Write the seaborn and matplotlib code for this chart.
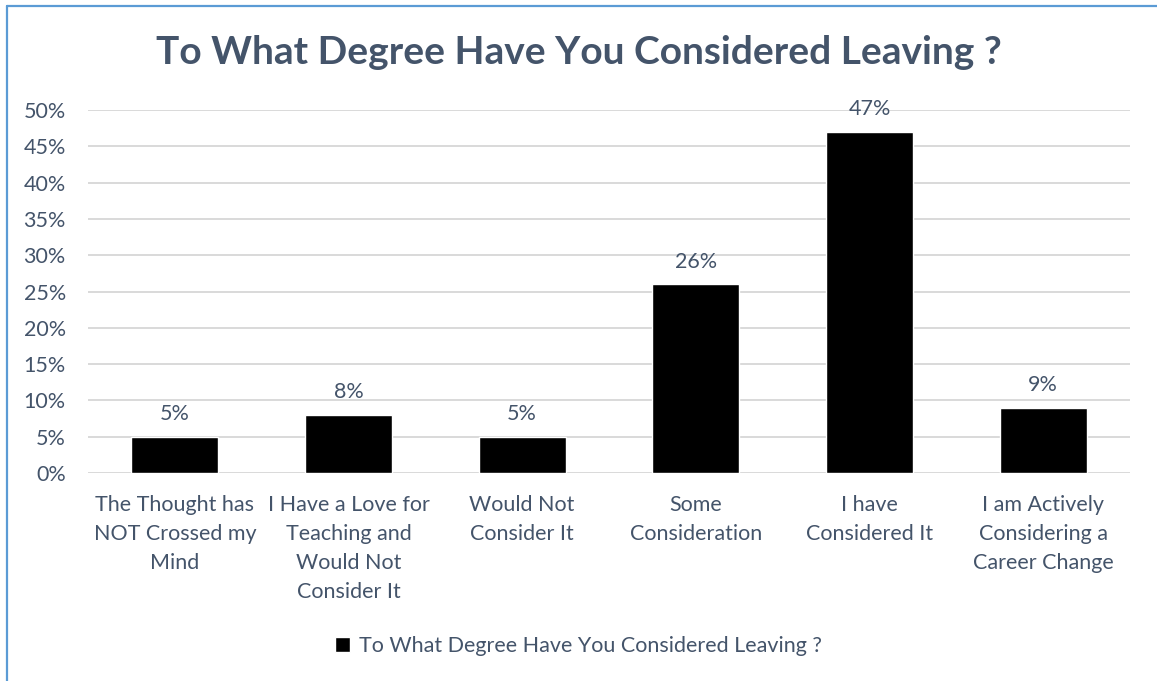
import matplotlib
matplotlib.use("Agg")
import matplotlib.pyplot as plt
import matplotlib.lines as mlines
import seaborn as sns
import pandas as pd

categories = [
    "The Thought has\nNOT Crossed my\nMind",
    "I Have a Love for\nTeaching and\nWould Not\nConsider It",
    "Would Not\nConsider It",
    "Some\nConsideration",
    "I have\nConsidered It",
    "I am Actively\nConsidering a\nCareer Change",
]
values = [0.05, 0.08, 0.05, 0.26, 0.47, 0.09]
series_name = "To What Degree Have You Considered Leaving ?"
y_ticks = [0.0, 0.05, 0.10, 0.15, 0.20, 0.25, 0.30, 0.35, 0.40, 0.45, 0.50]

TEXT = "#44546A"
FONT = ["Lato", "DejaVu Sans"]
BODY = 15.5

sns.set_theme(style="white")
plt.rcParams["font.family"] = FONT

W, H = 1157, 681
fig = plt.figure(figsize=(W / 100, H / 100), dpi=100)
fig.patch.set_facecolor("white")

# Outer chart frame: top and left edges only
fig.add_artist(mlines.Line2D([6.5 / W, 1.0], [1 - 5.5 / H, 1 - 5.5 / H],
                             color="#5B9BD5", lw=1.6, transform=fig.transFigure))
fig.add_artist(mlines.Line2D([6.5 / W, 6.5 / W], [0.0, 1 - 5.5 / H],
                             color="#5B9BD5", lw=1.6, transform=fig.transFigure))

left, right, bottom_px, top_px = 88, 1130, 473, 110
ax = fig.add_axes([left / W, (H - bottom_px) / H, (right - left) / W, (bottom_px - top_px) / H])

df = pd.DataFrame({"category": categories, "value": values})
sns.barplot(data=df, x="category", y="value", color="black", width=0.5,
            saturation=1, ax=ax, label=series_name, zorder=3)

ax.set_ylim(0, 0.5)
ax.set_yticks(y_ticks)
ax.set_yticklabels([f"{int(round(t * 100))}%" for t in y_ticks])
ax.yaxis.grid(True, color="#D9D9D9", lw=1.4, zorder=0)
ax.set_axisbelow(True)
for s in ax.spines.values():
    s.set_visible(False)
ax.set_xlabel("")
ax.set_ylabel("")
ax.tick_params(axis="y", length=0, pad=16, labelsize=BODY, labelcolor=TEXT)
ax.tick_params(axis="x", length=0, pad=16, labelsize=BODY, labelcolor=TEXT)
for lbl in ax.get_xticklabels():
    lbl.set_linespacing(1.55)
    lbl.set_verticalalignment("top")

ax.bar_label(ax.containers[0], labels=[f"{int(round(v * 100))}%" for v in values],
             padding=9, fontsize=BODY, color=TEXT)

fig.text(0.5, 1 - 53 / H, series_name, ha="center", va="center",
         fontsize=28, fontweight="bold", color=TEXT)

leg = ax.legend(loc="center", bbox_to_anchor=(0.5, (H - 646) / H),
                bbox_transform=fig.transFigure, frameon=False, fontsize=BODY,
                handlelength=0.7, handleheight=0.7, handletextpad=0.4)
for t in leg.get_texts():
    t.set_color(TEXT)

fig.savefig("out.png", dpi=100, facecolor="white")
